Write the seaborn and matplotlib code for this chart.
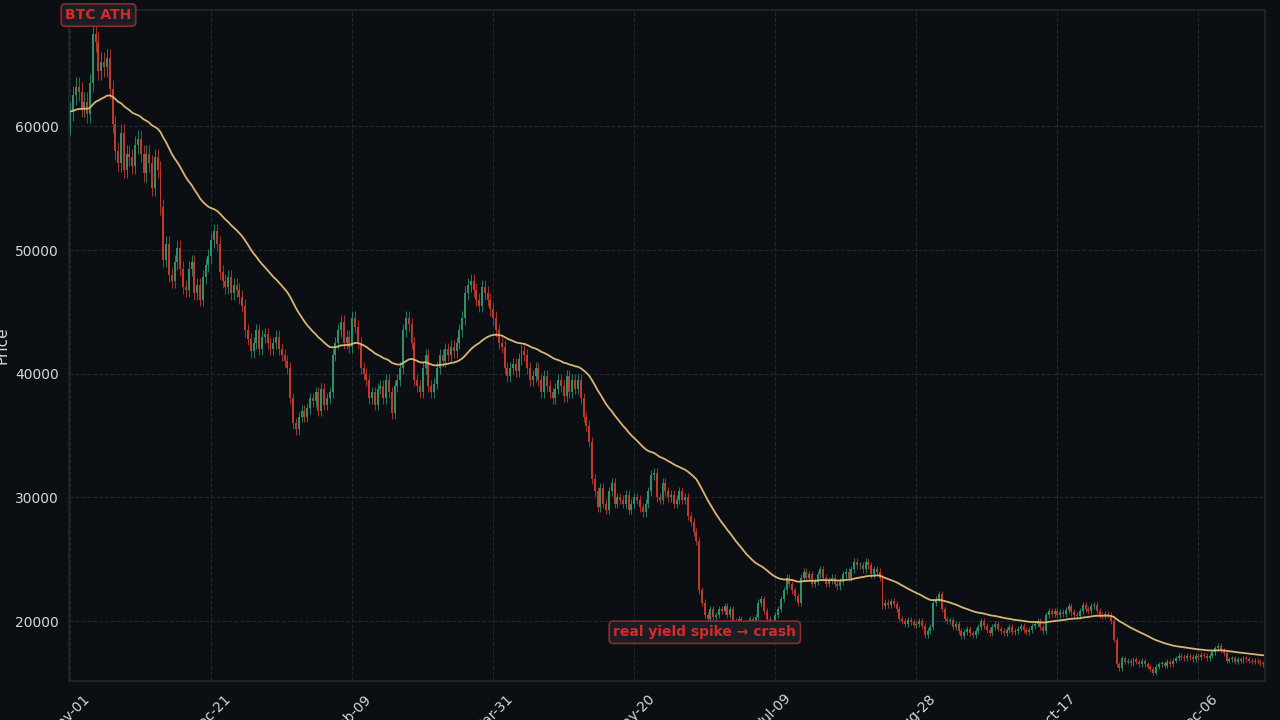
import numpy as np
import pandas as pd
import matplotlib
matplotlib.use("Agg")
import matplotlib.pyplot as plt
import matplotlib.dates as mdates
import seaborn as sns

START = "2021-11-01"
FIRST_OPEN = 60000

closes = [
    61200, 62500, 63200, 62800, 61500, 62000, 61000, 63500, 67500, 66800,
    64500, 65200, 64800, 65500, 63000, 60200, 58000, 57000, 59500, 56500,
    57800, 57500, 56800, 58500, 59000, 57800, 56200, 57800, 57000, 55000,
    57500, 56500, 53500, 49200, 50500, 48000, 47500, 49000, 50200, 48500,
    47000, 46800, 48500, 49000, 46500, 47200, 46000, 47800, 48800, 49500,
    50800, 51500, 50500, 48200, 47500, 47000, 47800, 46500, 47200, 46800,
    46200, 45500, 43500, 42800, 41800, 42500, 43500, 42000, 43000, 43200,
    42500, 42000, 42500, 43000, 42000, 41500, 41000, 40500, 38000, 36000,
    35500, 36500, 37000, 36500, 37200, 38000, 37800, 38500, 37000, 38800,
    37500, 38000, 38500, 41500, 42500, 43500, 44200, 42500, 43000, 42200,
    44500, 43800, 42500, 40500, 40000, 39500, 38000, 38500, 37500, 38800,
    39000, 38000, 39500, 38500, 36800, 39000, 39500, 40500, 43500, 44500,
    44000, 42500, 39500, 39000, 38500, 40500, 41500, 39000, 38500, 39200,
    40500, 41500, 41000, 42000, 41500, 42200, 41800, 42500, 43500, 44500,
    46500, 47200, 47500, 46800, 46000, 45500, 47000, 46500, 46000, 45200,
    44500, 43500, 42500, 42200, 40500, 39800, 40500, 40800, 40200, 41200,
    41800, 41500, 40500, 39500, 39800, 40500, 39500, 38500, 39800, 39000,
    38500, 38000, 38800, 39500, 39000, 38200, 39800, 38500, 39500, 38800,
    39500, 38000, 36500, 35800, 34500, 31500, 30500, 29200, 30800, 29500,
    29000, 30500, 31200, 29500, 30000, 29800, 29500, 30200, 29000, 29500,
    30000, 29800, 29200, 28800, 29500, 30500, 31800, 32000, 30000, 29800,
    31200, 30500, 30000, 30200, 29500, 29800, 30500, 29800, 30000, 28500,
    28000, 27200, 26500, 22500, 21500, 20500, 20200, 21000, 20300, 20500,
    21000, 20800, 21200, 20500, 21000, 20000, 19500, 20200, 19800, 19200,
    19500, 20200, 19800, 20300, 21500, 21800, 20800, 20200, 19500, 19800,
    20500, 21000, 21800, 22500, 23500, 23000, 22500, 22000, 21500, 23500,
    24000, 23500, 23800, 23000, 23200, 23800, 24200, 23500, 23000, 23300,
    23500, 23000, 22800, 23200, 23800, 24000, 23500, 24200, 24800, 24500,
    24500, 24200, 24800, 24500, 23800, 24200, 24000, 23500, 21200, 21500,
    21300, 21600, 21400, 21000, 20200, 20000, 19800, 20100, 19900, 19700,
    19800, 20000, 19600, 18900, 19200, 19500, 21500, 21800, 22200, 21000,
    20200, 20000, 20100, 19500, 19800, 19200, 18800, 19100, 19400, 19000,
    18900, 19200, 19500, 20000, 19600, 19300, 19000, 19500, 19800, 19400,
    19200, 19000, 19300, 19500, 19100, 19200, 19400, 19600, 19300, 19100,
    19300, 19600, 19800, 20000, 19500, 19200, 20500, 20800, 20600, 20800,
    20500, 20700, 20600, 20900, 21200, 20700, 20500, 20400, 20800, 21300,
    21000, 20800, 21200, 21300, 20800, 20500, 20400, 20600, 20500, 20000,
    18500, 16500, 16200, 17000, 16700, 16800, 16600, 16900, 16700, 16500,
    16800, 16500, 16300, 16100, 15800, 16300, 16500, 16600, 16400, 16700,
    16500, 16800, 17000, 17200, 17100, 17000, 17200, 17100, 16900, 17200,
    17100, 17300, 17200, 17000, 17200, 17500, 17800, 18000, 17600, 17400,
    16800, 16900, 17000, 16700, 16900, 16800, 17000, 16900, 16800, 16700,
    16800, 16700, 16600, 16500,
]

BG = "#0b0e13"
UP = "#2f8f66"
DOWN = "#c0392b"
MA_COLOR = "#d8b574"
TEXT = "#d6d6d6"

dates = pd.date_range(START, periods=len(closes), freq="D")
df = pd.DataFrame({"date": dates, "close": closes})
df["open"] = df["close"].shift(1).fillna(FIRST_OPEN)
df["high"] = df[["open", "close"]].max(axis=1) * 1.012
df["low"] = df[["open", "close"]].min(axis=1) * 0.988
# smoothed trend line
df["ma"] = df["close"].ewm(span=45, adjust=False).mean()

sns.set_theme(style="dark")
fig = plt.figure(figsize=(12.8, 7.2), dpi=100, facecolor=BG)
ax = fig.add_axes([0.054, 0.054, 0.934, 0.932])
ax.set_facecolor(BG)

colors = np.where(df["close"] >= df["open"], UP, DOWN)
x = mdates.date2num(df["date"])
ax.vlines(x, df["low"], df["high"], colors=colors, linewidth=0.6)
ax.bar(x, (df["close"] - df["open"]).abs().clip(lower=60),
       bottom=df[["open", "close"]].min(axis=1), width=0.7,
       color=colors, linewidth=0)

sns.lineplot(data=df, x="date", y="ma", ax=ax, color=MA_COLOR, linewidth=1.3)

ticks = pd.date_range(START, periods=9, freq="50D")
ax.set_xticks(mdates.date2num(ticks))
ax.xaxis.set_major_formatter(mdates.DateFormatter("%b-%d"))
ax.set_xlim(x[0] - 0.4, x[-1] + 0.5)
ax.set_ylim(15150, 69400)
ax.set_xlabel("")
ax.set_ylabel("Price", color=TEXT, fontsize=11)
ax.tick_params(colors=TEXT, labelsize=10, length=4)
ax.tick_params(axis="x", rotation=45)
ax.grid(True, color="#22262d", linestyle="--", linewidth=0.8)
for s in ax.spines.values():
    s.set_color("#22262d")

box = dict(boxstyle="round,pad=0.3", facecolor="#1b1e25", edgecolor="#8f2a2a", linewidth=1.2)
ax.text(x[10], 69000, "BTC ATH", color="#d42a2a", fontsize=10, fontweight="bold",
        ha="center", va="center", bbox=box, clip_on=False)
ax.text(x[225], 19100, "real yield spike → crash", color="#d42a2a", fontsize=10,
        fontweight="bold", ha="center", va="center", bbox=box)

fig.savefig("out.png", dpi=100, facecolor=BG)
